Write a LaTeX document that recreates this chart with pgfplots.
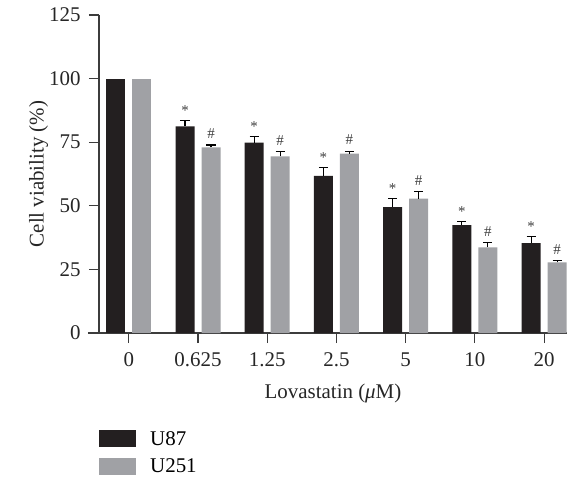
\documentclass[border=0pt]{standalone}
\usepackage{fontspec}
\setmainfont{Liberation Serif}
\usepackage{pgfplots}
\pgfplotsset{compat=1.18}
\definecolor{u87}{RGB}{35,31,32}
\definecolor{u251}{RGB}{160,161,165}
\definecolor{axisgray}{RGB}{60,60,60}
\tikzset{sig/.style={font=\fontsize{15}{16}\selectfont, color=black!75, inner sep=0pt}}
\begin{document}
\begin{tikzpicture}
\useasboundingbox (-99bp,-144bp) rectangle (477bp,333bp);
\begin{axis}[
  at={(0,0)}, anchor=south west,
  scale only axis, width=468bp, height=318bp,
  xmin=-0.43, xmax=6.33, ymin=0, ymax=125,
  axis x line*=bottom, axis y line*=left,
  ybar, bar width=19bp,
  xtick={0,...,6}, xticklabels={0,0.625,1.25,2.5,5,10,20},
  ytick={0,25,50,75,100,125},
  tick align=outside, major tick length=10bp,
  every tick/.style={line width=1.1pt, color=axisgray},
  axis line style={line width=1.1pt, color=axisgray},
  xticklabel style={font=\fontsize{21}{24}\selectfont, color=black!85, yshift=-6bp},
  yticklabel style={font=\fontsize{21}{24}\selectfont, color=black!85, xshift=-5bp},
  xlabel style={font=\fontsize{21}{24}\selectfont, color=black!85, yshift=-10bp},
  ylabel style={font=\fontsize{21}{24}\selectfont, color=black!85, yshift=-6bp},
  /pgf/number format/assume math mode=true,
  xlabel={Lovastatin (\textit{μ}M)},
  ylabel={Cell viability (\%)},
  legend style={at={(0,-0.302)}, anchor=north west, draw=none, fill=none,
    font=\fontsize{21}{24}\selectfont, row sep=8bp, inner sep=0pt,
    /tikz/every odd column/.append style={column sep=12bp}},
  legend cell align=left,
  legend image code/.code={\fill[#1] (0bp,-8.5bp) rectangle (37bp,8.5bp);},
  clip=false,
]
\addplot[bar shift=-13bp, fill=u87, draw=none,
  error bars/.cd, y dir=plus, y explicit, error mark=|,
  error bar style={line width=1.1pt, draw=black},
  error mark options={mark size=4.5bp, line width=1.1pt, draw=black}]
coordinates {(1,81.2) +- (0,2.2) (2,74.8) +- (0,2.5) (3,61.8) +- (0,3.4) (4,49.5) +- (0,3.4) (5,42.4) +- (0,1.5) (6,35.3) +- (0,2.5)};
\addlegendentry{U87}
\addplot[bar shift=13bp, fill=u251, draw=none,
  error bars/.cd, y dir=plus, y explicit, error mark=|,
  error bar style={line width=1.1pt, draw=black},
  error mark options={mark size=4.5bp, line width=1.1pt, draw=black}]
coordinates {(1,73.0) +- (0,0.9) (2,69.4) +- (0,2.0) (3,70.5) +- (0,1.0) (4,52.8) +- (0,2.7) (5,33.7) +- (0,2.0) (6,27.8) +- (0,0.7)};
\addlegendentry{U251}
\addplot[bar shift=-13bp, fill=u87, draw=none, forget plot] coordinates {(0,100)};
\addplot[bar shift=13bp, fill=u251, draw=none, forget plot] coordinates {(0,100)};
\draw[line width=1.1pt, color=axisgray] (axis cs:-0.59,0) -- (axis cs:-0.43,0);
% significance markers
\node[sig] at ([xshift=-13bp,yshift=10bp]axis cs:1,83.4) {*};
\node[sig] at ([xshift=-13bp,yshift=10bp]axis cs:2,77.3) {*};
\node[sig] at ([xshift=-13bp,yshift=10bp]axis cs:3,65.2) {*};
\node[sig] at ([xshift=-13bp,yshift=10bp]axis cs:4,52.9) {*};
\node[sig] at ([xshift=-13bp,yshift=10bp]axis cs:5,43.9) {*};
\node[sig] at ([xshift=-13bp,yshift=10bp]axis cs:6,37.8) {*};
\node[sig] at ([xshift=13bp,yshift=11bp]axis cs:1,73.9) {\#};
\node[sig] at ([xshift=13bp,yshift=11bp]axis cs:2,71.4) {\#};
\node[sig] at ([xshift=13bp,yshift=11bp]axis cs:3,71.5) {\#};
\node[sig] at ([xshift=13bp,yshift=11bp]axis cs:4,55.5) {\#};
\node[sig] at ([xshift=13bp,yshift=11bp]axis cs:5,35.7) {\#};
\node[sig] at ([xshift=13bp,yshift=11bp]axis cs:6,28.5) {\#};
\end{axis}
\end{tikzpicture}
\end{document}
